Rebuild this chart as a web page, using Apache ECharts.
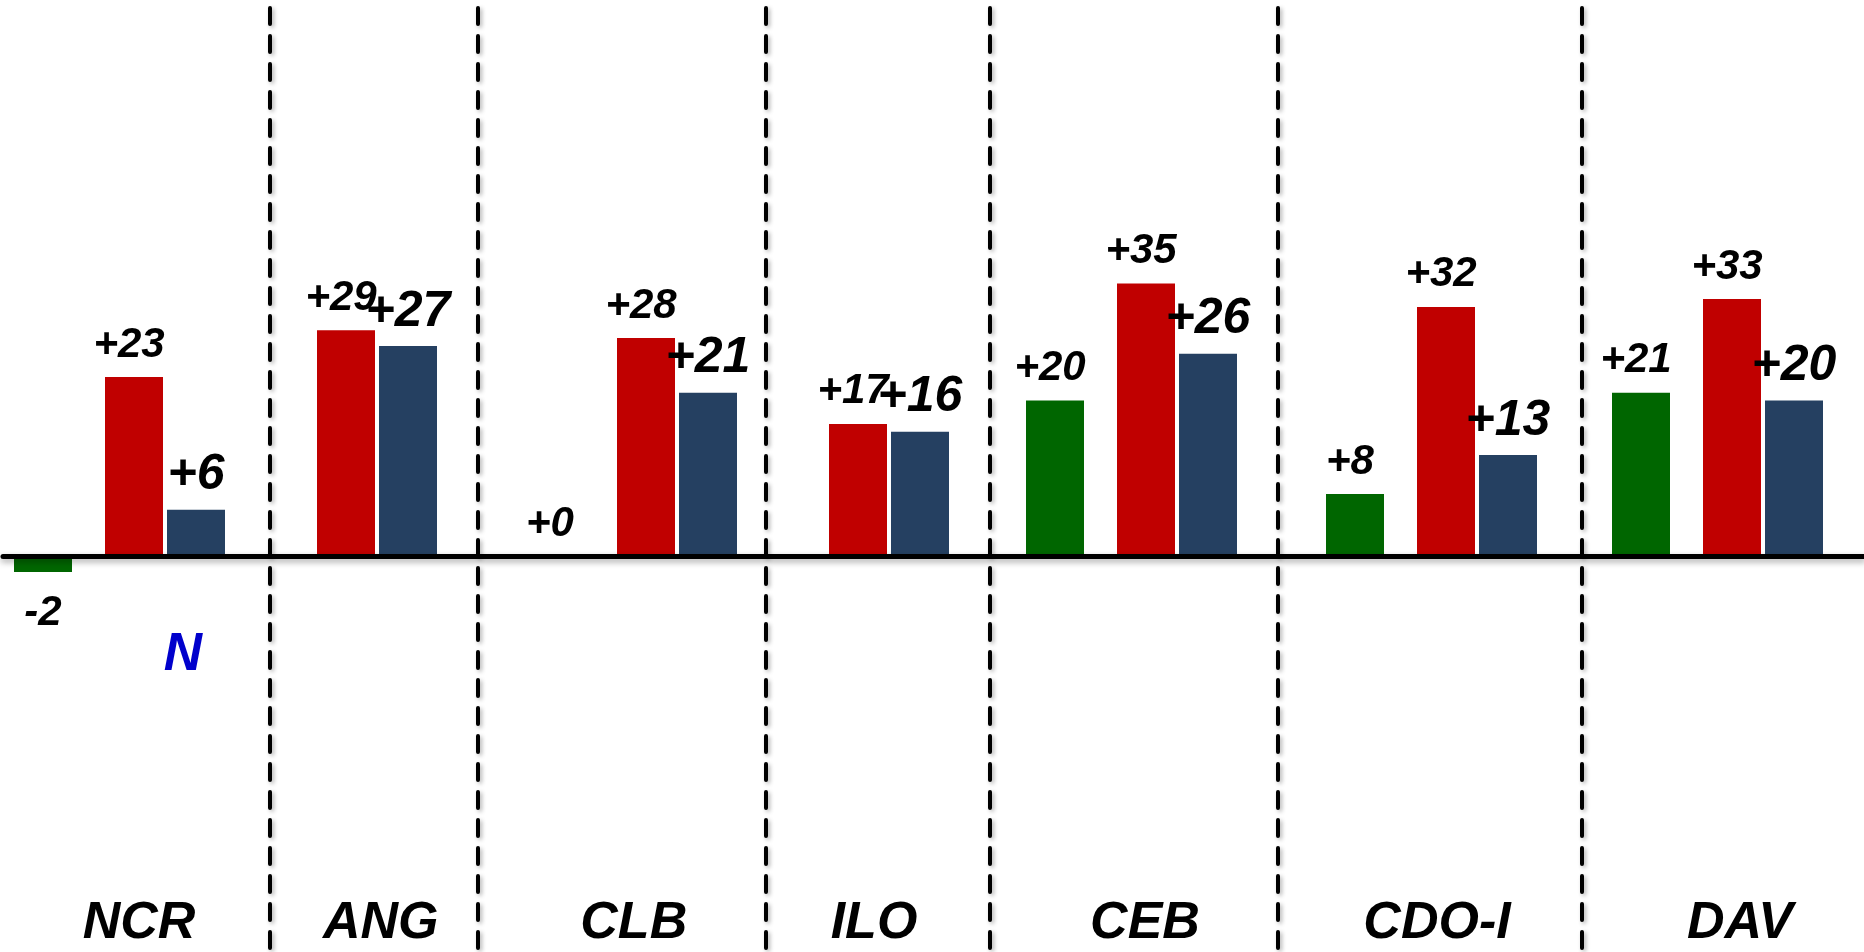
<!DOCTYPE html>
<html>
<head>
<meta charset="utf-8">
<script src="https://cdn.jsdelivr.net/npm/echarts@6/dist/echarts.min.js"></script>
<style>
html, body { margin: 0; padding: 0; background: #ffffff; }
#chart { width: 1864px; height: 952px; }
</style>
</head>
<body>
<div id="chart"></div>
<script>
// ---------------- data ----------------
const categories = ['NCR', 'ANG', 'CLB', 'ILO', 'CEB', 'CDO-I', 'DAV'];
const greenValues = [-2, null, 0, null, 20, 8, 21];
const redValues = [23, 29, 28, 17, 35, 32, 33];
const navyValues = [6, 27, 21, 16, 26, 13, 20];
const noteText = 'N';

// ---------------- layout ----------------
const sectionEdges = [0, 270, 477.5, 766, 990, 1278, 1582, 1864];
const labelShift = [4, 7, 12, -4, 11, 7, 17];
const groupLeft = [14, 226, 526, 738, 1026, 1326, 1612];
const barW = 58, pairOffset = 91, pairGap = 4;
const yMin = -40, yMax = 60, plotTop = 88.5, plotBottom = 83.5;

const COLORS = { green: '#006600', red: '#C00000', navy: '#254061' };
const FONT = '"Liberation Sans", Arial, sans-serif';

const grids = [], xAxes = [], yAxes = [], series = [];
function addGrid(g, x, y) {
  grids.push(g);
  const i = grids.length - 1;
  xAxes.push(Object.assign({ gridIndex: i }, x));
  yAxes.push(Object.assign({ gridIndex: i }, y));
  return i;
}

const fmt = p => (p.value >= 0 ? '+' : '') + p.value;
const valueLabel = {
  show: true, position: 'top', distance: 11, offset: [-5, 0],
  fontFamily: FONT, fontSize: 42, fontWeight: 'bold', fontStyle: 'italic', color: '#000',
  formatter: fmt
};
const navyLabel = Object.assign({}, valueLabel, { fontSize: 50, distance: 9, offset: [0, 0] });
const hiddenValueAxis = { type: 'value', min: yMin, max: yMax, show: false };
const plotBox = { top: plotTop, bottom: plotBottom };

// sections: category labels + dashed separators (y axis lines)
for (let i = 0; i < categories.length; i++) {
  const s = labelShift[i];
  addGrid(
    { left: sectionEdges[i], width: sectionEdges[i + 1] - sectionEdges[i], top: 8, bottom: 4 },
    {
      type: 'category', data: [categories[i]],
      axisLine: { show: false }, axisTick: { show: false },
      axisLabel: { inside: true, margin: -2, fontFamily: FONT, fontSize: 52, fontWeight: 'bold', fontStyle: 'italic', color: '#000',
        padding: s >= 0 ? [0, 0, 0, 2 * s] : [0, -2 * s, 0, 0] }
    },
    {
      type: 'value', min: 0, max: 1, splitLine: { show: false },
      axisLabel: { show: false }, axisTick: { show: false },
      axisLine: {
        show: i > 0,
        lineStyle: { color: '#000', width: 4, type: [16, 12],
          shadowColor: 'rgba(0,0,0,0.3)', shadowBlur: 4, shadowOffsetX: 2, shadowOffsetY: 2 }
      }
    }
  );
}

// baseline at zero
addGrid(
  { left: 3, right: 0, top: plotTop, bottom: plotBottom },
  {
    type: 'category', data: [''], z: 10,
    axisLine: { show: true, onZero: true,
      lineStyle: { color: '#000', width: 5, shadowColor: 'rgba(0,0,0,0.35)', shadowBlur: 6, shadowOffsetY: 3 } },
    axisTick: { show: false }, axisLabel: { show: false }
  },
  hiddenValueAxis
);

// bars
for (let i = 0; i < categories.length; i++) {
  const gv = greenValues[i];
  const gItem = (gv != null && gv < 0) ? { value: gv, label: { position: 'bottom', distance: 20, offset: [0, 0] } } : gv;
  const gi = addGrid(Object.assign({ left: groupLeft[i], width: barW }, plotBox),
    { type: 'category', data: [categories[i]], show: false }, hiddenValueAxis);
  series.push({ type: 'bar', name: 'green', xAxisIndex: gi, yAxisIndex: gi, data: [gItem],
    barWidth: barW, itemStyle: { color: COLORS.green }, label: valueLabel });

  const pi = addGrid(Object.assign({ left: groupLeft[i] + pairOffset, width: 2 * barW + pairGap }, plotBox),
    { type: 'category', data: [categories[i]], show: false }, hiddenValueAxis);
  const gap = (pairGap / barW * 100) + '%';
  series.push({ type: 'bar', name: 'red', xAxisIndex: pi, yAxisIndex: pi, data: [redValues[i]],
    barWidth: barW, barGap: gap, itemStyle: { color: COLORS.red }, label: valueLabel });
  series.push({ type: 'bar', name: 'navy', xAxisIndex: pi, yAxisIndex: pi, data: [navyValues[i]],
    barWidth: barW, barGap: gap, itemStyle: { color: COLORS.navy }, label: navyLabel });
}

const chart = echarts.init(document.getElementById('chart'));
chart.setOption({
  animation: false,
  backgroundColor: '#ffffff',
  grid: grids, xAxis: xAxes, yAxis: yAxes, series: series,
  graphic: [{
    type: 'text', x: 183, y: 655, z: 20,
    style: { text: noteText, font: 'italic bold 53px ' + FONT, fill: '#0000CC', align: 'center', verticalAlign: 'middle' }
  }]
});
</script>
</body>
</html>
